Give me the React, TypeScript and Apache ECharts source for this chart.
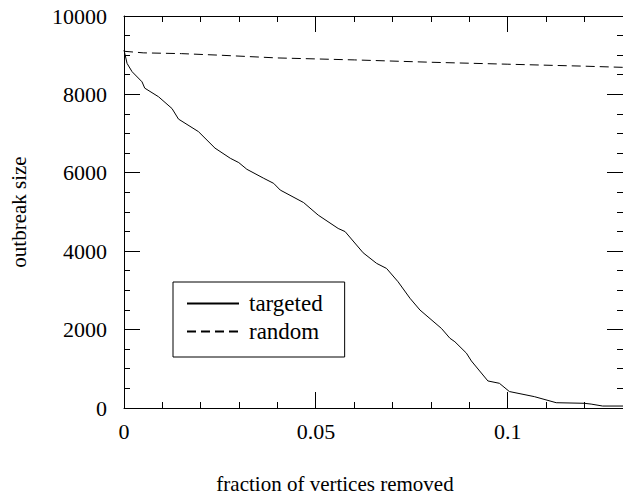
import React, { useEffect, useRef } from 'react';
import * as echarts from 'echarts';

const targetedX = [0, 0.0008, 0.0021, 0.0047, 0.0054, 0.009, 0.0125, 0.0142, 0.0194, 0.0237, 0.0277, 0.0299, 0.032, 0.0364, 0.039, 0.0407, 0.0468, 0.0506, 0.0558, 0.0576, 0.0623, 0.0658, 0.0684, 0.0714, 0.0745, 0.0771, 0.0827, 0.0849, 0.0862, 0.0892, 0.0905, 0.0948, 0.0978, 0.1004, 0.1069, 0.1126, 0.1199, 0.1217, 0.1247, 0.13];
const targetedY = [9130, 8790, 8580, 8320, 8160, 7940, 7640, 7370, 7050, 6630, 6370, 6260, 6090, 5860, 5730, 5560, 5240, 4920, 4580, 4500, 3960, 3690, 3560, 3220, 2800, 2500, 2030, 1780, 1690, 1400, 1200, 690, 630, 420, 290, 135, 120, 100, 50, 50];

const randomX = [0, 0.005, 0.015, 0.025, 0.04, 0.06, 0.08, 0.1, 0.12, 0.13];
const randomY = [9100, 9060, 9040, 9000, 8930, 8880, 8820, 8770, 8720, 8690];

const seriesNames = ['targeted', 'random'];
const xTitle = 'fraction of vertices removed';
const yTitle = 'outbreak size';

const xRange = [0, 0.13];
const yRange = [0, 10000];
const xMajorTicks = [0.05, 0.1];
const xMinorTicks = [0.01, 0.02, 0.03, 0.04, 0.06, 0.07, 0.08, 0.09, 0.11, 0.12];
const yMajorTicks = [2000, 4000, 6000, 8000];
const yMinorTicks = [500, 1000, 1500, 2500, 3000, 3500, 4500, 5000, 5500, 6500, 7000, 7500, 8500, 9000, 9500];

const FONT = "'Liberation Serif', 'Times New Roman', serif";
const MAJOR_LEN = 16;
const MINOR_LEN = 6;
const GRID = { left: 123, top: 16, width: 501, height: 392 };

function frameAxis(kind: 'x' | 'y', position: string, labels: boolean, showLine: boolean) {
  const isX = kind === 'x';
  const a: any = {
    type: 'value',
    min: isX ? xRange[0] : yRange[0],
    max: isX ? xRange[1] : yRange[1],
    interval: isX ? 0.05 : 2000,
    position,
    splitLine: { show: false },
    axisLine: { show: showLine, onZero: false, lineStyle: { color: '#000', width: 1 } },
    axisTick: { show: false },
    minorTick: { show: false },
    axisLabel: labels
      ? {
          show: true,
          showMaxLabel: isX ? false : true,
          margin: isX ? 12 : 17,
          color: '#000',
          fontFamily: FONT,
          fontSize: 22,
          formatter: (v: number) => String(v),
        }
      : { show: false },
  };
  if (labels && !isX) {
    a.name = yTitle;
    a.nameLocation = 'middle';
    a.nameRotate = 90;
    a.nameGap = 95;
    a.nameTextStyle = { color: '#000', fontFamily: FONT, fontSize: 21 };
  }
  return a;
}

export default function App() {
  const ref = useRef<HTMLDivElement>(null);
  useEffect(() => {
    if (!ref.current) return;
    const chart = echarts.init(ref.current, undefined, { renderer: 'svg' });
    const zip = (xs: number[], ys: number[]) => xs.map((x, i) => [x, ys[i]]);
    const titleGraphic = {
      type: 'text',
      x: 335,
      y: 484,
      style: {
        text: xTitle,
        fontFamily: FONT,
        fontSize: 21,
        fill: '#000',
        align: 'center',
        verticalAlign: 'middle',
      },
    };
    const option: any = {
      animation: false,
      grid: { ...GRID },
      xAxis: [frameAxis('x', 'bottom', true, true), frameAxis('x', 'top', false, true)],
      yAxis: [frameAxis('y', 'left', true, true), frameAxis('y', 'right', false, false)],
      legend: {
        show: true,
        orient: 'vertical',
        left: 173,
        top: 282,
        data: seriesNames,
        selectedMode: false,
        itemWidth: 52,
        itemHeight: 20,
        itemGap: 5,
        padding: [10, 22, 14, 13],
        borderColor: '#000',
        borderWidth: 1,
        borderRadius: 0,
        backgroundColor: '#fff',
        itemStyle: { opacity: 0 },
        textStyle: { color: '#000', fontFamily: FONT, fontSize: 23, padding: [0, 0, 0, 5] },
      },
      graphic: { elements: [titleGraphic] },
      series: [
        {
          name: seriesNames[0],
          type: 'line',
          xAxisIndex: 0,
          yAxisIndex: 0,
          data: zip(targetedX, targetedY),
          symbol: 'none',
          silent: true,
          lineStyle: { color: '#000', width: 1, type: 'solid' },
          itemStyle: { color: '#000' },
        },
        {
          name: seriesNames[1],
          type: 'line',
          xAxisIndex: 0,
          yAxisIndex: 0,
          data: zip(randomX, randomY),
          symbol: 'none',
          silent: true,
          lineStyle: { color: '#000', width: 1, type: [9, 5] },
          itemStyle: { color: '#000' },
        },
      ],
    };
    chart.setOption(option);

    // tick marks, placed through the axes' own scales
    const num = (v: any) => (typeof v === 'number' && isFinite(v) ? v : NaN);
    const xPx = (v: number) => {
      let p = NaN;
      try {
        p = num(chart.convertToPixel({ xAxisIndex: 0 } as any, v as any));
      } catch (e) {
        p = NaN;
      }
      if (isNaN(p)) p = GRID.left + ((v - xRange[0]) / (xRange[1] - xRange[0])) * GRID.width;
      return p;
    };
    const yPx = (v: number) => {
      let p = NaN;
      try {
        p = num(chart.convertToPixel({ yAxisIndex: 0 } as any, v as any));
      } catch (e) {
        p = NaN;
      }
      if (isNaN(p)) p = GRID.top + GRID.height - ((v - yRange[0]) / (yRange[1] - yRange[0])) * GRID.height;
      return p;
    };
    const crisp = (p: number) => Math.round(p - 0.5) + 0.5;
    const tickStyle = { stroke: '#000', lineWidth: 1 };
    const x0 = xPx(xRange[0]);
    const x1 = xPx(xRange[1]);
    const y0 = yPx(yRange[0]);
    const y1 = yPx(yRange[1]);
    const tickLines: any[] = [];
    const line = (a: number, b: number, c: number, d: number) =>
      tickLines.push({ type: 'line', z: 100, silent: true, shape: { x1: a, y1: b, x2: c, y2: d }, style: tickStyle });
    const addX = (v: number, len: number) => {
      const x = crisp(xPx(v));
      line(x, y0, x, y0 - len);
      line(x, y1, x, y1 + len);
    };
    const addY = (v: number, len: number) => {
      const y = crisp(yPx(v));
      line(x0, y, x0 + len, y);
      line(x1, y, x1 - len, y);
    };
    xMajorTicks.forEach((v) => addX(v, MAJOR_LEN));
    xMinorTicks.forEach((v) => addX(v, MINOR_LEN));
    yMajorTicks.forEach((v) => addY(v, MAJOR_LEN));
    yMinorTicks.forEach((v) => addY(v, MINOR_LEN));
    chart.setOption({ graphic: { elements: [titleGraphic, ...tickLines] } });

    return () => chart.dispose();
  }, []);
  return (
    <div
      ref={ref}
      style={{ position: 'fixed', left: 0, top: 0, width: 623, height: 495, background: '#fff' }}
    />
  );
}
